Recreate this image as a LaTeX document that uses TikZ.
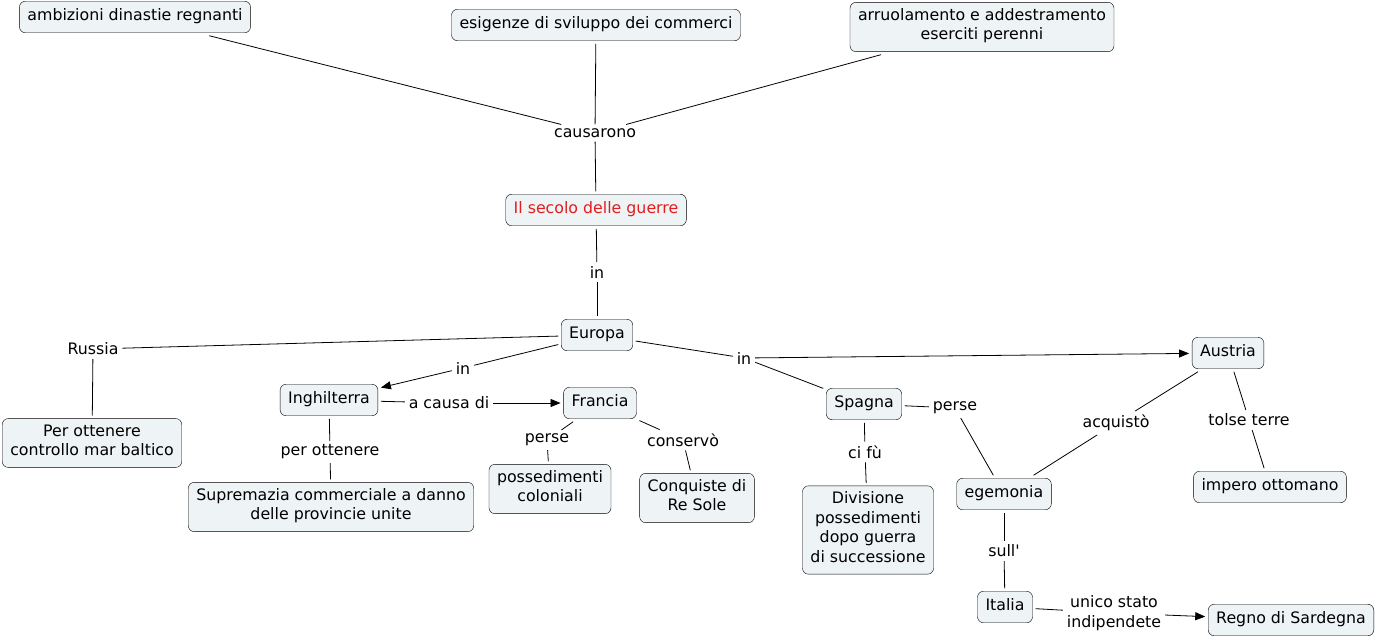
\documentclass[tikz,border=0pt]{standalone}
\usepackage{fontspec}
\setmainfont{DejaVu Sans}
\usetikzlibrary{arrows.meta}
\definecolor{conceptfill}{RGB}{238,243,245}
\definecolor{titlered}{RGB}{226,30,30}

\begin{document}
\begin{tikzpicture}[x=1pt, y=-1pt,
		concept/.style={draw, rounded corners=6pt, fill=conceptfill, align=center,
			inner xsep=8pt, inner ysep=6pt, outer sep=3pt,
			font=\fontsize{15.8}{19.5}\selectfont,
			execute at begin node=\strut, execute at end node=\strut},
		linklabel/.style={align=center, inner sep=2pt, outer sep=2pt,
			font=\fontsize{15.8}{19.5}\selectfont},
		link/.style={line width=0.8pt},
		arrowlink/.style={link, -{Triangle[length=10pt,width=8pt]}}]
		\useasboundingbox (0, 0) rectangle (1378, 638);
		% concepts
		\node[concept] (ambizioni) at (135, 17) {ambizioni dinastie regnanti};
		\node[concept] (esigenze) at (596, 25) {esigenze di sviluppo dei commerci};
		\node[concept] (arruolamento) at (982, 27) {arruolamento e addestramento\\eserciti perenni};
		\node[concept, text=titlered] (secolo) at (596, 210) {Il secolo delle guerre};
		\node[concept] (europa) at (597, 335) {Europa};
		\node[concept] (baltico) at (92, 443) {Per ottenere\\controllo mar baltico};
		\node[concept] (inghilterra) at (329, 400) {Inghilterra};
		\node[concept] (francia) at (600, 403) {Francia};
		\node[concept] (supremazia) at (331, 507) {Supremazia commerciale a danno\\delle provincie unite};
		\node[concept] (possedimenti) at (550, 489) {possedimenti\\coloniali};
		\node[concept] (resole) at (697, 498) {Conquiste di\\Re Sole};
		\node[concept] (spagna) at (864, 404) {Spagna};
		\node[concept] (divisione) at (868, 530) {Divisione\\possedimenti\\dopo guerra\\di successione};
		\node[concept] (egemonia) at (1004, 494) {egemonia};
		\node[concept] (austria) at (1228, 353) {Austria};
		\node[concept] (ottomano) at (1270, 487) {impero ottomano};
		\node[concept] (italia) at (1005, 607) {Italia};
		\node[concept] (sardegna) at (1291, 620) {Regno di Sardegna};
		% link labels
		\node[linklabel] (causarono) at (595, 133) {causarono};
		\node[linklabel] (inEuropa) at (597, 272) {in};
		\node[linklabel] (russia) at (93, 349) {Russia};
		\node[linklabel] (inIng) at (463, 368) {in};
		\node[linklabel] (inAus) at (744, 358) {in};
		\node[linklabel] (acausadi) at (449, 403) {a causa di};
		\node[linklabel] (perottenere) at (330, 452) {per ottenere};
		\node[linklabel] (perseFr) at (547, 440) {perse};
		\node[linklabel] (conservo) at (683, 440) {conservò};
		\node[linklabel] (perseSp) at (955, 408) {perse};
		\node[linklabel] (cifu) at (865, 452) {ci fù};
		\node[linklabel] (acquisto) at (1116, 423) {acquistò};
		\node[linklabel] (tolse) at (1249, 420) {tolse terre};
		\node[linklabel] (sull) at (1004, 551) {sull\textquotesingle};
		\node[linklabel] (unico) at (1114, 613) {unico stato\\indipendete};
		% connectors
		\draw[link] (ambizioni) -- (causarono);
		\draw[link] (esigenze) -- (causarono);
		\draw[link] (arruolamento) -- (causarono);
		\draw[link] (causarono) -- (secolo);
		\draw[link] (secolo) -- (inEuropa);
		\draw[link] (inEuropa) -- (europa);
		\draw[link] (europa) -- (russia);
		\draw[link] (russia) -- (baltico);
		\draw[link] (europa) -- (inIng);
		\draw[arrowlink] (inIng) -- (inghilterra);
		\draw[link] (europa) -- (inAus);
		\draw[arrowlink] (inAus) -- (austria);
		\draw[link] (inAus) -- (spagna);
		\draw[link] (inghilterra) -- (acausadi);
		\draw[arrowlink] (acausadi) -- (francia);
		\draw[link] (inghilterra) -- (perottenere);
		\draw[link] (perottenere) -- (supremazia);
		\draw[link] (francia) -- (perseFr);
		\draw[link] (perseFr) -- (possedimenti);
		\draw[link] (francia) -- (conservo);
		\draw[link] (conservo) -- (resole);
		\draw[link] (spagna) -- (perseSp);
		\draw[link] (perseSp) -- (egemonia);
		\draw[link] (spagna) -- (cifu);
		\draw[link] (cifu) -- (divisione);
		\draw[link] (austria) -- (acquisto);
		\draw[link] (acquisto) -- (egemonia);
		\draw[link] (austria) -- (tolse);
		\draw[link] (tolse) -- (ottomano);
		\draw[link] (egemonia) -- (sull);
		\draw[link] (sull) -- (italia);
		\draw[link] (italia) -- (unico);
		\draw[arrowlink] (unico) -- (sardegna);
	\end{tikzpicture}
\end{document}
